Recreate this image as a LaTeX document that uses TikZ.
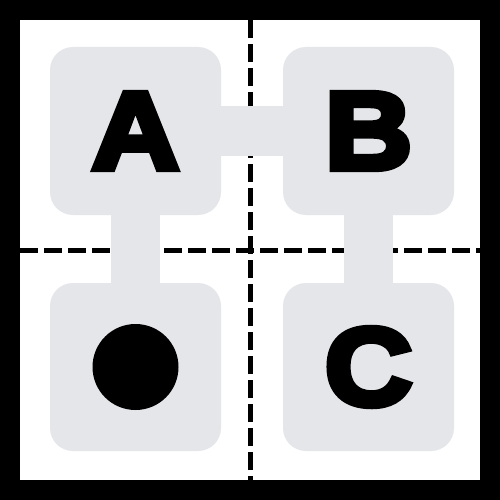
\documentclass[tikz,border=0pt]{standalone}
\usepackage{fontspec}
\newfontfamily\heavyfont{Liberation Sans Bold}[FakeBold=6,FakeStretch=1.1]
\definecolor{boxgray}{RGB}{229,230,234}
\begin{document}
\begin{tikzpicture}[x=1pt,y=-1pt,
  cell/.style={rectangle, rounded corners=23pt, fill=boxgray, draw=none,
    minimum width=171pt, minimum height=168pt, inner sep=0pt,
    font=\heavyfont\fontsize{110}{110}\selectfont},
  link/.style={boxgray, line width=49pt},
  divider/.style={black, line width=5pt, dash pattern=on 18pt off 6pt}]
\useasboundingbox (0,0) rectangle (500,500);
\fill[white] (0,0) rectangle (500,500);
% dividers
\coordinate (vt) at (250,20);
\coordinate (vb) at (250,480);
\coordinate (hl) at (20,250);
\coordinate (hr) at (480,250);
\draw[divider] (vt) -- (vb);
\draw[divider] (hl) -- (hr);
% frame
\draw[black, line width=20pt] (10,10) rectangle (490,490);
% cells
\node[cell] (A) at (135.5,131) {A};
\node[cell] (B) at (368.5,131) {B};
\node[cell] (D) at (135.5,367) {};
\node[cell] (C) at (368.5,367) {C};
% links
\draw[link] (A.east) -- (B.west);
\draw[link] (A.south) -- (D.north);
\draw[link] (B.south) -- (C.north);
\node[circle, fill=black, minimum size=86pt, inner sep=0pt] (dot) at (D.center) {};
\end{tikzpicture}
\end{document}
